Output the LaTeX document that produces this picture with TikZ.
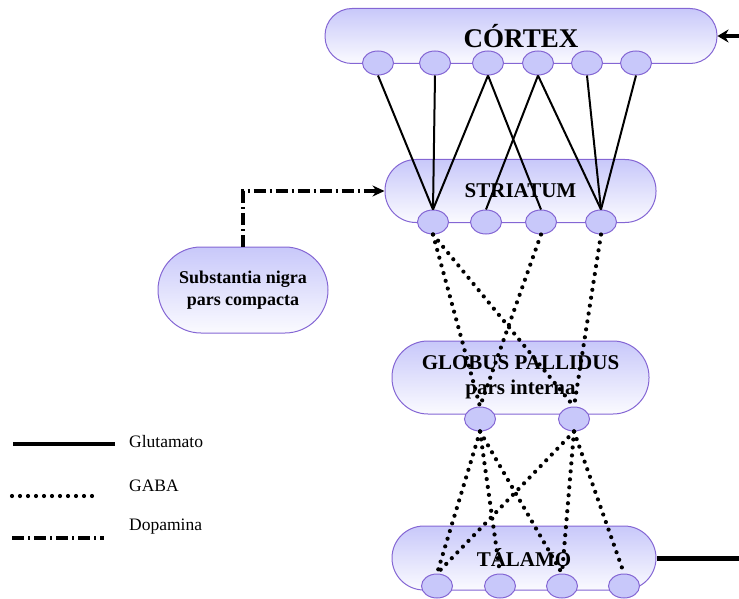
\documentclass[tikz,border=0pt]{standalone}
\usepackage{fontspec}
\setmainfont{Liberation Serif}
\usetikzlibrary{arrows.meta,shapes.geometric}
\definecolor{lav}{HTML}{C8C8FA}
\definecolor{bord}{HTML}{8466D4}
\tikzset{
 region/.style={rectangle, draw=bord, line width=1pt, top color=lav, bottom color=lav!8, rounded corners=#1, inner sep=0pt, align=center},
 cell/.style={ellipse, draw=bord, line width=1pt, fill=lav, minimum width=31pt, minimum height=24pt, inner sep=0pt},
 glu/.style={line width=2pt, black},
 gaba/.style={line width=4.2pt, line cap=round, dash pattern=on 0pt off 8pt},
 dopa/.style={line width=4pt, dash pattern=on 12pt off 4pt on 2pt off 4pt},
 big/.style={font=\bfseries\fontsize{21}{25}\selectfont},
 legtext/.style={anchor=west, inner sep=0pt, font=\fontsize{17.5}{20}\selectfont}
}
\begin{document}
\begin{tikzpicture}[x=1pt,y=-1pt]
\useasboundingbox (0,0) rectangle (739,599);
% regions
\node[region=27pt, minimum width=392pt, minimum height=55pt, font=\bfseries\fontsize{27}{30}\selectfont] (ctx) at (521,36) {CÓRTEX};
\node[region=31pt, minimum width=271pt, minimum height=63pt, big] (str) at (520.5,191) {STRIATUM};
\node[region=36pt, minimum width=257pt, minimum height=73pt, big] (gp) at (520.5,377.5) {GLOBUS PALLIDUS\\pars interna};
\node[region=32pt, minimum width=264pt, minimum height=64pt, big] (tal) at (524,558) {TÁLAMO};
\node[region=43pt, minimum width=170pt, minimum height=86pt, font=\bfseries\fontsize{18}{22}\selectfont] (snc) at (243,290) {Substantia nigra\\pars compacta};
% cells
\foreach \n/\x in {1/378,2/435,3/488,4/538,5/587,6/636} \node[cell] (c\n) at (\x,63) {};
\foreach \n/\x in {1/433,2/486,3/541,4/601} \node[cell] (s\n) at (\x,222) {};
\foreach \n/\x in {1/480,2/574} \node[cell] (g\n) at (\x,419) {};
\foreach \n/\x in {1/437,2/500,3/562,4/624} \node[cell] (t\n) at (\x,586) {};
% glutamate cortex -> striatum
\draw[glu] (c1.south) -- (s1.north);
\draw[glu] (c2.south) -- (s1.north);
\draw[glu] (c3.south) -- (s1.north);
\draw[glu] (c3.south) -- (s3.north);
\draw[glu] (c4.south) -- (s2.north);
\draw[glu] (c4.south) -- (s4.north);
\draw[glu] (c5.south) -- (s4.north);
\draw[glu] (c6.south) -- (s4.north);
% GABA striatum -> GP
\draw[gaba] (s1.south) -- (g1.north);
\draw[gaba] (s1.south) -- (g2.north);
\draw[gaba] (s3.south) -- (g1.north);
\draw[gaba] (s4.south) -- (g2.north);
% GABA GP -> thalamus
\draw[gaba] (g1.south) -- (t1.north);
\draw[gaba] (g1.south) -- (t2.north);
\draw[gaba] (g1.south) -- (t3.north);
\draw[gaba] (g2.south) -- (t1.north);
\draw[gaba] (g2.south) -- (t3.north);
\draw[gaba] (g2.south) -- (t4.north);
% dopamine
\draw[dopa, -{Stealth[length=12pt,width=11pt]}] (snc.north) |- (str.west);
% external
\coordinate (cin) at (739,36);
\draw[line width=4pt, -{Stealth[length=11pt,width=13pt]}] (cin) -- (ctx.east);
\coordinate (tout) at (739,558);
\draw[line width=5pt] (tal.east) -- (tout);
% legend
\coordinate (la1) at (13,444); \coordinate (la2) at (115,444);
\draw[line width=4pt] (la1) -- (la2);
\node[legtext] (lt1) at (129,442) {Glutamato};
\coordinate (lb1) at (12,496); \coordinate (lb2) at (98,496);
\draw[gaba] (lb1) -- (lb2);
\node[legtext] (lt2) at (129,486) {GABA};
\coordinate (lc1) at (12,538); \coordinate (lc2) at (104,538);
\draw[dopa] (lc1) -- (lc2);
\node[legtext] (lt3) at (129,527) {Dopamina};
\end{tikzpicture}
\end{document}
